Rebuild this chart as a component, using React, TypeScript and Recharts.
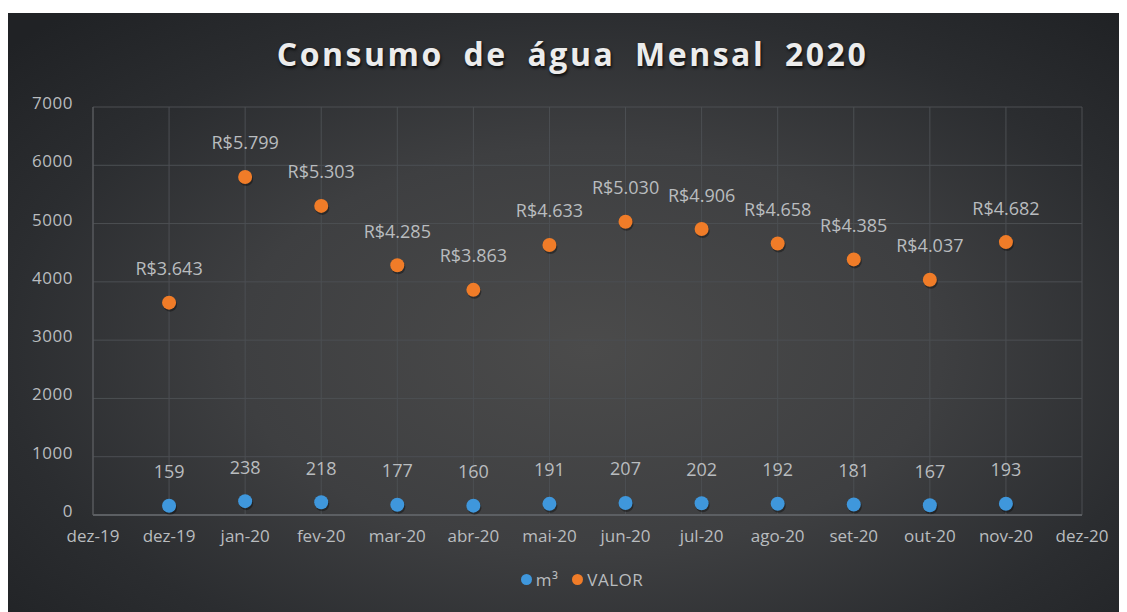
import React from 'react';
import { ScatterChart, Scatter, XAxis, YAxis, CartesianGrid, Legend, LabelList } from 'recharts';

const TICK_LABELS = ['dez-19', 'dez-19', 'jan-20', 'fev-20', 'mar-20', 'abr-20', 'mai-20', 'jun-20', 'jul-20', 'ago-20', 'set-20', 'out-20', 'nov-20', 'dez-20'];
const MONTH_INDEX = [1, 2, 3, 4, 5, 6, 7, 8, 9, 10, 11, 12];
const M3 = [159, 238, 218, 177, 160, 191, 207, 202, 192, 181, 167, 193];
const VALOR = [3643, 5799, 5303, 4285, 3863, 4633, 5030, 4906, 4658, 4385, 4037, 4682];
const Y_TICKS = [0, 1000, 2000, 3000, 4000, 5000, 6000, 7000];

const m3Data = MONTH_INDEX.map((x, i) => ({ x, y: M3[i] }));
const valorData = MONTH_INDEX.map((x, i) => ({ x, y: VALOR[i] }));

const BLUE = '#3f97dc';
const ORANGE = '#f07c28';
const TEXT = '#b9bcbf';

const dot = (color: string) => (props: any) => {
  const { cx, cy } = props;
  return (
    <g>
      <circle cx={cx + 1} cy={cy + 2} r={7} fill="#000" opacity={0.35} />
      <circle cx={cx} cy={cy} r={7} fill={color} />
    </g>
  );
};

const fmtValor = (v: any) => `R$${(Number(v) / 1000).toFixed(3)}`;

const YTick = (props: any) => {
  const { x, y, payload } = props;
  return (
    <text x={x} y={y - 4} dy="0.355em" textAnchor="end" fill={TEXT} fontFamily="Open Sans" fontSize={17} letterSpacing={0.5}>
      {payload.value}
    </text>
  );
};

const renderLegend = () => (
  <div style={{ display: 'flex', justifyContent: 'center', alignItems: 'center', fontFamily: 'Open Sans', fontSize: 17, letterSpacing: 0.5, color: TEXT, paddingLeft: 30 }}>
    <span style={{ display: 'inline-block', width: 11, height: 11, borderRadius: 6, background: BLUE, marginRight: 4 }} />
    <span style={{ marginRight: 14 }}>m³</span>
    <span style={{ display: 'inline-block', width: 11, height: 11, borderRadius: 6, background: ORANGE, marginRight: 4 }} />
    <span>VALOR</span>
  </div>
);

const tickStyle = { fill: TEXT, fontFamily: 'Open Sans', fontSize: 17 };

export default function App() {
  return (
    <div
      style={{
        position: 'relative',
        width: 1120,
        height: 599,
        marginLeft: -1,
        marginTop: 5,
        background: 'radial-gradient(ellipse 70% 75% at 52% 56%, #4b4b4b 0%, #3e3f41 45%, #2b2d30 75%, #202225 100%)',
        overflow: 'hidden',
      }}
    >
      <div
        style={{
          position: 'absolute',
          top: 19,
          left: 0,
          width: 1120,
          textAlign: 'center',
          fontFamily: 'Open Sans',
          fontWeight: 700,
          fontSize: 32,
          letterSpacing: 2.5,
          wordSpacing: 9,
          color: '#ececec',
          textShadow: '1px 2px 3px rgba(0,0,0,0.8)',
          paddingLeft: 11,
          boxSizing: 'border-box',
        }}
      >
        Consumo de água Mensal 2020
      </div>
      <ScatterChart width={1120} height={599} margin={{ top: 94, right: 45, bottom: 67, left: 0 }}>
        <CartesianGrid stroke="#4c4f53" strokeWidth={1} />
        <XAxis
          type="number"
          dataKey="x"
          domain={[0, 13]}
          ticks={TICK_LABELS.map((_, i) => i)}
          tickFormatter={(v: number) => TICK_LABELS[v]}
          interval={0}
          height={30}
          tickLine={false}
          tickSize={0}
          tickMargin={15}
          axisLine={{ stroke: '#5c5f63', strokeWidth: 2 }}
          tick={tickStyle}
        />
        <YAxis
          type="number"
          dataKey="y"
          domain={[0, 7000]}
          ticks={Y_TICKS}
          width={86}
          tickLine={false}
          tickSize={0}
          tickMargin={20}
          axisLine={{ stroke: '#5c5f63' }}
          tick={<YTick />}
        />
        <Legend verticalAlign="middle" layout="horizontal" content={renderLegend} wrapperStyle={{ top: 555, left: 0, width: 1120 }} />
        <Scatter name="m³" data={m3Data} fill={BLUE} shape={dot(BLUE)} isAnimationActive={false}>
          <LabelList dataKey="y" position="top" offset={23} fill={TEXT} fontFamily="Open Sans" fontSize={18} />
        </Scatter>
        <Scatter name="VALOR" data={valorData} fill={ORANGE} shape={dot(ORANGE)} isAnimationActive={false}>
          <LabelList dataKey="y" position="top" offset={23} fill={TEXT} fontFamily="Open Sans" fontSize={18} formatter={fmtValor} />
        </Scatter>
      </ScatterChart>
    </div>
  );
}
